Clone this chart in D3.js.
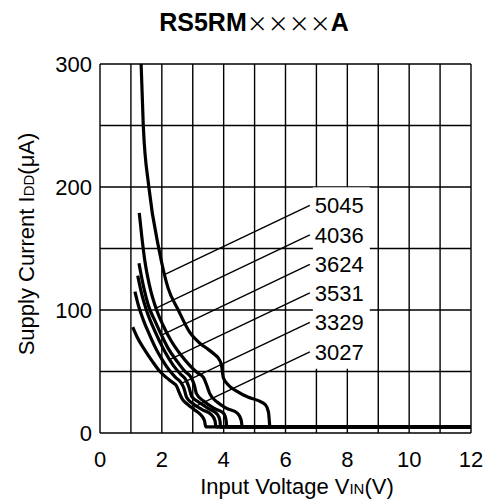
<!DOCTYPE html>
<html><head><meta charset="utf-8">
<script src="https://cdn.jsdelivr.net/npm/d3@7"></script>
<style>
body{margin:0;background:#fff}
text{font-family:"Liberation Sans",Arial,Helvetica,sans-serif;fill:#000}
</style>
</head><body>
<svg id="chart" width="484" height="503"></svg>
<script>
// ---- data (Input voltage V, supply current µA) ----
const seriesNames = ["5045", "4036", "3624", "3531", "3329", "3027"];
const s5045 = [[1.33,300],[1.40,250],[1.58,200],[1.91,149],[2.2,118],[2.53,100],[2.9,82],[3.23,73],[3.5,68],[3.7,64],[3.85,60],[3.93,55],[3.99,45],[4.15,39],[4.42,34],[4.8,29],[5.1,26.5],[5.35,23],[5.45,17],[5.5,5],[12,5]];
const s4036 = [[1.27,179],[1.35,160],[1.45,140],[1.6,120],[1.83,100],[2.05,87],[2.3,75],[2.6,64],[2.9,55],[3.15,49],[3.35,45],[3.45,39],[3.55,32],[3.8,25],[4.1,20],[4.45,16],[4.57,10],[4.6,5],[12,5]];
const s3624 = [[1.26,138],[1.4,120],[1.56,104],[1.8,90],[2.0,79],[2.2,69],[2.5,58],[2.75,50],[2.95,45],[3.05,39],[3.12,32],[3.35,26],[3.7,20],[4.0,16],[4.08,10],[4.1,5],[12,5]];
const s3531 = [[1.22,128],[1.35,113],[1.5,100],[1.7,87],[1.9,76],[2.1,66],[2.37,55],[2.6,48],[2.78,43],[2.88,37],[2.96,30],[3.2,25],[3.5,20],[3.8,15],[3.88,10],[3.9,5],[12,5]];
const s3329 = [[1.13,115],[1.25,103],[1.4,92],[1.6,80],[1.8,69],[2.0,60],[2.21,52],[2.45,45],[2.62,41],[2.72,36],[2.8,29],[3.0,24],[3.3,19],[3.6,15],[3.72,10],[3.75,5],[12,5]];
const s3027 = [[1.06,86],[1.2,78],[1.46,67],[1.7,58],[1.94,50],[2.15,45],[2.35,41],[2.48,38],[2.56,33],[2.65,28],[2.85,23],[3.05,19],[3.25,15],[3.38,10],[3.42,5],[12,5]];
const seriesValues = [s5045, s4036, s3624, s3531, s3329, s3027];
const labelCurrents = [185, 161, 137, 114, 90, 66];   // µA level of each label
const labelVoltage = 6.95;                              // V where labels start
const xTicks = [0, 2, 4, 6, 8, 10, 12];
const yTicks = [0, 100, 200, 300];
const xGrid = d3.range(0, 13, 1);
const yGrid = d3.range(0, 301, 50);

// ---- layout ----
const svg = d3.select("#chart");
const x = d3.scaleLinear().domain([0, 12]).range([100, 471]);
const y = d3.scaleLinear().domain([0, 300]).range([433, 64]);
const fs = 22;

// grid
const g = svg.append("g");
g.selectAll(".vg").data(xGrid).join("line")
  .attr("x1", d => x(d)).attr("x2", d => x(d))
  .attr("y1", y(0)).attr("y2", y(300))
  .attr("stroke", "#000").attr("stroke-width", 1.4);
g.selectAll(".hg").data(yGrid).join("line")
  .attr("x1", x(0)).attr("x2", x(12))
  .attr("y1", d => y(d)).attr("y2", d => y(d))
  .attr("stroke", "#000").attr("stroke-width", 1.4);

// curves
const line = d3.line().x(d => x(d[0])).y(d => y(d[1])).curve(d3.curveMonotoneX);
const paths = svg.append("g").selectAll("path").data(seriesValues).join("path")
  .attr("d", line).attr("fill", "none").attr("stroke", "#000")
  .attr("stroke-width", 3.2).attr("stroke-linejoin", "round");

// labels with white backing
const lab = svg.append("g");
const texts = lab.selectAll("text").data(seriesNames).join("text")
  .attr("x", x(labelVoltage)).attr("y", (d, i) => y(labelCurrents[i]))
  .attr("dy", "0.36em").attr("font-size", fs).text(d => d);
let bx0 = Infinity, bx1 = -Infinity, by0 = Infinity, by1 = -Infinity;
texts.each(function () {
  const b = this.getBBox();
  bx0 = Math.min(bx0, b.x); bx1 = Math.max(bx1, b.x + b.width);
  by0 = Math.min(by0, b.y); by1 = Math.max(by1, b.y + b.height);
});
lab.insert("rect", "text").attr("x", bx0 - 2).attr("y", by0 - 6)
  .attr("width", bx1 - bx0 + 8).attr("height", by1 - by0 + 10).attr("fill", "#fff");

// leader lines: from label to the curve, fixed pixel slope
const slope = 0.476;
const xEnd = x(labelVoltage) - 5;
paths.each(function (d, i) {
  const yc = y(labelCurrents[i]);
  const L = this.getTotalLength();
  let best = null;
  for (let t = 0; t <= L; t += 0.5) {
    const p = this.getPointAtLength(t);
    const ly = yc + slope * (xEnd - p.x);
    if (p.y >= ly) { best = p; break; }
  }
  if (best) {
    svg.append("line").attr("x1", best.x).attr("y1", yc + slope * (xEnd - best.x))
      .attr("x2", xEnd).attr("y2", yc)
      .attr("stroke", "#000").attr("stroke-width", 1.4);
  }
});

// tick labels
svg.append("g").selectAll("text").data(xTicks).join("text")
  .attr("x", d => x(d)).attr("y", 467).attr("text-anchor", "middle")
  .attr("font-size", fs).text(d => d);
svg.append("g").selectAll("text").data(yTicks).join("text")
  .attr("x", 92).attr("y", d => y(d)).attr("dy", "0.36em").attr("text-anchor", "end")
  .attr("font-size", fs).text(d => d);

// title
const t = svg.append("text").attr("x", 254).attr("y", 31).attr("text-anchor", "middle")
  .attr("font-size", 25);
t.append("tspan").attr("font-weight", "bold").text("RS5RM");
t.append("tspan").attr("font-weight", "normal").attr("font-size", 21)
  .attr("font-family", "'Noto Sans CJK JP','DejaVu Sans',sans-serif").text("××××");
t.append("tspan").attr("font-weight", "bold").text("A");

// x axis title
const xt = svg.append("text").attr("x", 297).attr("y", 494).attr("text-anchor", "middle")
  .attr("font-size", fs);
xt.append("tspan").text("Input Voltage V");
xt.append("tspan").attr("font-size", 15).text("IN");
xt.append("tspan").text("(V)");

// y axis title
const yt = svg.append("text").attr("transform", "translate(34,244) rotate(-90)")
  .attr("text-anchor", "middle").attr("font-size", fs);
yt.append("tspan").text("Supply Current I");
yt.append("tspan").attr("font-size", 15).text("DD");
yt.append("tspan").text("(μA)");
</script>
</body></html>
